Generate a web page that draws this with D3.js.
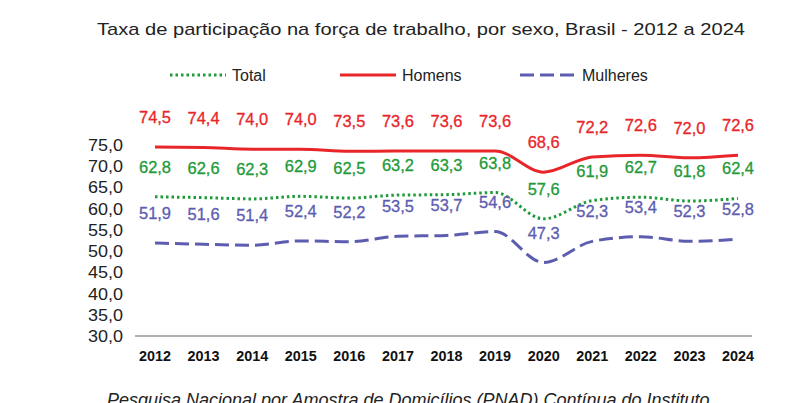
<!DOCTYPE html>
<html><head><meta charset="utf-8">
<script src="https://cdn.jsdelivr.net/npm/d3@7"></script>
<style>body{margin:0;background:#fff}svg{display:block;font-family:"Liberation Sans",Arial,sans-serif}</style>
</head><body><svg id="c" width="805" height="403"></svg>
<script>
const years = [2012,2013,2014,2015,2016,2017,2018,2019,2020,2021,2022,2023,2024];
const homens = [74.5,74.4,74.0,74.0,73.5,73.6,73.6,73.6,68.6,72.2,72.6,72.0,72.6];
const total = [62.8,62.6,62.3,62.9,62.5,63.2,63.3,63.8,57.6,61.9,62.7,61.8,62.4];
const mulheres = [51.9,51.6,51.4,52.4,52.2,53.5,53.7,54.6,47.3,52.3,53.4,52.3,52.8];
const yTicks = [30,35,40,45,50,55,60,65,70,75];

const svg = d3.select("#c");
const x = d3.scalePoint().domain(years).range([155,738]);
const y = d3.scaleLinear().domain([30,75]).range([336,145]);
const fmt = v => d3.format(".1f")(v).replace(".", ",");

svg.append("text").attr("x",421).attr("y",35).attr("text-anchor","middle")
  .attr("font-size",17).attr("fill","#222").attr("textLength",648).attr("lengthAdjust","spacingAndGlyphs")
  .text("Taxa de participação na força de trabalho, por sexo, Brasil - 2012 a 2024");

// axis
svg.append("line").attr("x1",135).attr("x2",752).attr("y1",y(30)).attr("y2",y(30))
  .attr("stroke","#999").attr("stroke-width",1.5);
svg.selectAll(".yt").data(yTicks).join("text")
  .attr("x",123).attr("y",d=>y(d)+6).attr("text-anchor","end")
  .attr("font-size",16).attr("fill","#222").attr("textLength",35).attr("lengthAdjust","spacingAndGlyphs")
  .text(fmt);
svg.selectAll(".xt").data(years).join("text")
  .attr("x",d=>x(d)).attr("y",361).attr("text-anchor","middle")
  .attr("font-size",15).attr("font-weight","bold").attr("fill","#111")
  .attr("textLength",32).attr("lengthAdjust","spacingAndGlyphs")
  .text(d=>d);

const series = [
  {name:"Total", vals:total, color:"#1f9a3a", dash:"2.5,3", w:3, lx:170},
  {name:"Homens", vals:homens, color:"#e8262a", dash:null, w:3, lx:340},
  {name:"Mulheres", vals:mulheres, color:"#5d5db0", dash:"14,6", w:3, lx:520}
];
const line = d3.line().x((d,i)=>x(years[i])).y(d=>y(d)).curve(d3.curveMonotoneX);
series.forEach(s=>{
  svg.append("path").attr("d",line(s.vals)).attr("fill","none")
    .attr("stroke",s.color).attr("stroke-width",s.w).attr("stroke-dasharray",s.dash);
  svg.selectAll(null).data(s.vals).join("text")
    .attr("x",(d,i)=>x(years[i])).attr("y",d=>y(d)-24)
    .attr("text-anchor","middle").attr("font-size",16).attr("fill",s.color)
    .attr("stroke",s.color).attr("stroke-width",0.3)
    .attr("textLength",32).attr("lengthAdjust","spacingAndGlyphs")
    .text(fmt);
  svg.append("line").attr("x1",s.lx).attr("x2",s.lx+56).attr("y1",75).attr("y2",75)
    .attr("stroke",s.color).attr("stroke-width",3).attr("stroke-dasharray",s.dash);
  svg.append("text").attr("x",s.lx+62).attr("y",81).attr("font-size",16).attr("fill","#222").text(s.name);
});

svg.append("text").attr("x",107).attr("y",406).attr("font-size",18).attr("font-style","italic")
  .attr("fill","#222").text("Pesquisa Nacional por Amostra de Domicílios (PNAD) Contínua do Instituto");
</script></body></html>
